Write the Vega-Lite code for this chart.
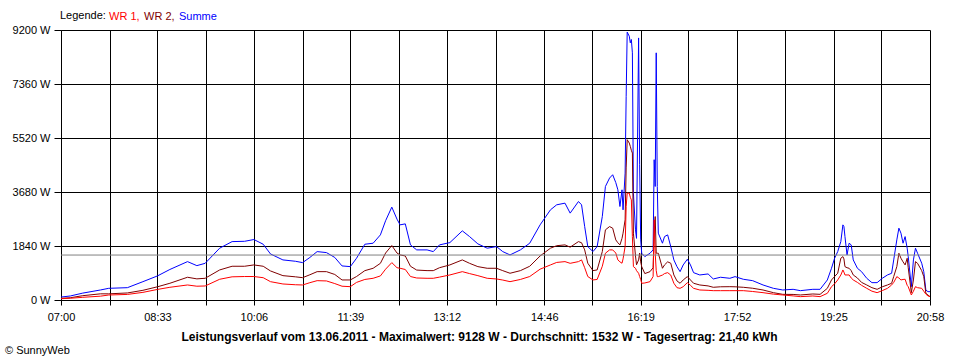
{
  "$schema": "https://vega.github.io/schema/vega-lite/v6.json",
  "width": 869,
  "height": 270,
  "autosize": "none",
  "padding": {"left": 61, "top": 30, "right": 30, "bottom": 60},
  "background": "white",
  "config": {
    "font": "Liberation Sans",
    "view": {"stroke": null},
    "axis": {"labelFontSize": 11, "labelColor": "black", "domainColor": "black", "tickColor": "black", "gridColor": "black", "gridOpacity": 1, "gridWidth": 1}
  },
  "title": {"text": "© SunnyWeb", "orient": "bottom", "anchor": "start", "frame": "group", "fontSize": 11, "fontWeight": "normal", "color": "black", "dx": -56, "offset": 3},
  "layer": [
    {
      "data": {
        "format": {"parse": {"t": "date:'%H:%M'"}},
        "values": [
          {"t":"07:00","Summe":100,"WR 2":58,"WR 1":44},
          {"t":"07:09","Summe":137,"WR 2":77,"WR 1":60},
          {"t":"07:21","Summe":235,"WR 2":147,"WR 1":92},
          {"t":"07:38","Summe":341,"WR 2":210,"WR 1":130},
          {"t":"07:46","Summe":398,"WR 2":210,"WR 1":170},
          {"t":"08:04","Summe":420,"WR 2":240,"WR 1":190},
          {"t":"08:19","Summe":625,"WR 2":330,"WR 1":260},
          {"t":"08:33","Summe":820,"WR 2":450,"WR 1":360},
          {"t":"08:45","Summe":1040,"WR 2":570,"WR 1":433},
          {"t":"09:02","Summe":1308,"WR 2":775,"WR 1":512},
          {"t":"09:11","Summe":1171,"WR 2":720,"WR 1":470},
          {"t":"09:19","Summe":1250,"WR 2":740,"WR 1":478},
          {"t":"09:33","Summe":1765,"WR 2":1024,"WR 1":706},
          {"t":"09:45","Summe":1990,"WR 2":1150,"WR 1":790},
          {"t":"09:57","Summe":2000,"WR 2":1150,"WR 1":800},
          {"t":"10:06","Summe":2060,"WR 2":1195,"WR 1":800},
          {"t":"10:15","Summe":1900,"WR 2":1150,"WR 1":760},
          {"t":"10:22","Summe":1570,"WR 2":990,"WR 1":625},
          {"t":"10:34","Summe":1366,"WR 2":830,"WR 1":546},
          {"t":"10:46","Summe":1320,"WR 2":790,"WR 1":520},
          {"t":"10:53","Summe":1274,"WR 2":761,"WR 1":512},
          {"t":"11:00","Summe":1450,"WR 2":860,"WR 1":590},
          {"t":"11:07","Summe":1649,"WR 2":966,"WR 1":659},
          {"t":"11:16","Summe":1615,"WR 2":966,"WR 1":649},
          {"t":"11:24","Summe":1450,"WR 2":870,"WR 1":560},
          {"t":"11:31","Summe":1161,"WR 2":683,"WR 1":470},
          {"t":"11:39","Summe":1137,"WR 2":683,"WR 1":454},
          {"t":"11:45","Summe":1423,"WR 2":800,"WR 1":600},
          {"t":"11:53","Summe":1900,"WR 2":1000,"WR 1":700},
          {"t":"12:01","Summe":1935,"WR 2":1081,"WR 1":740},
          {"t":"12:08","Summe":2219,"WR 2":1250,"WR 1":820},
          {"t":"12:13","Summe":2700,"WR 2":1600,"WR 1":1050},
          {"t":"12:19","Summe":3165,"WR 2":1855,"WR 1":1274},
          {"t":"12:24","Summe":2755,"WR 2":1600,"WR 1":1100},
          {"t":"12:27","Summe":2560,"WR 2":1536,"WR 1":1081},
          {"t":"12:32","Summe":2594,"WR 2":1500,"WR 1":1040},
          {"t":"12:37","Summe":1878,"WR 2":1150,"WR 1":800},
          {"t":"12:43","Summe":1707,"WR 2":1020,"WR 1":750},
          {"t":"12:53","Summe":1707,"WR 2":1001,"WR 1":740},
          {"t":"12:59","Summe":1649,"WR 2":1000,"WR 1":740},
          {"t":"13:05","Summe":1878,"WR 2":1100,"WR 1":780},
          {"t":"13:15","Summe":1956,"WR 2":1195,"WR 1":853},
          {"t":"13:27","Summe":2356,"WR 2":1366,"WR 1":966},
          {"t":"13:34","Summe":2161,"WR 2":1250,"WR 1":900},
          {"t":"13:42","Summe":1912,"WR 2":1137,"WR 1":830},
          {"t":"13:51","Summe":1765,"WR 2":1081,"WR 1":740},
          {"t":"14:00","Summe":1820,"WR 2":1081,"WR 1":717},
          {"t":"14:06","Summe":1649,"WR 2":1000,"WR 1":680},
          {"t":"14:13","Summe":1536,"WR 2":911,"WR 1":625},
          {"t":"14:23","Summe":1707,"WR 2":1000,"WR 1":700},
          {"t":"14:32","Summe":1935,"WR 2":1150,"WR 1":800},
          {"t":"14:42","Summe":2560,"WR 2":1500,"WR 1":1050},
          {"t":"14:52","Summe":3073,"WR 2":1765,"WR 1":1195},
          {"t":"14:58","Summe":3243,"WR 2":1850,"WR 1":1280},
          {"t":"15:06","Summe":3300,"WR 2":1878,"WR 1":1308},
          {"t":"15:11","Summe":2960,"WR 2":1800,"WR 1":1250},
          {"t":"15:19","Summe":3356,"WR 2":1990,"WR 1":1308},
          {"t":"15:22","Summe":3243,"WR 2":1950,"WR 1":1366},
          {"t":"15:25","Summe":2502,"WR 2":1707,"WR 1":1100},
          {"t":"15:28","Summe":1820,"WR 2":1253,"WR 1":800},
          {"t":"15:33","Summe":1649,"WR 2":1001,"WR 1":683},
          {"t":"15:37","Summe":1820,"WR 2":1024,"WR 1":700},
          {"t":"15:42","Summe":2844,"WR 2":1650,"WR 1":1150},
          {"t":"15:45","Summe":3868,"WR 2":2390,"WR 1":1593},
          {"t":"15:49","Summe":4155,"WR 2":2502,"WR 1":1707},
          {"t":"15:52","Summe":4268,"WR 2":2448,"WR 1":1707},
          {"t":"15:55","Summe":4000,"WR 2":2048,"WR 1":1600},
          {"t":"15:57","Summe":3755,"WR 2":1950,"WR 1":1366},
          {"t":"15:59","Summe":3185,"WR 2":1878,"WR 1":1300},
          {"t":"16:01","Summe":3755,"WR 2":2100,"WR 1":1253},
          {"t":"16:02","Summe":3073,"WR 2":2277,"WR 1":1400},
          {"t":"16:04","Summe":4324,"WR 2":2731,"WR 1":1820},
          {"t":"16:05","Summe":6941,"WR 2":4500,"WR 1":3185},
          {"t":"16:06","Summe":9128,"WR 2":5462,"WR 1":3641},
          {"t":"16:08","Summe":8990,"WR 2":5348,"WR 1":3641},
          {"t":"16:09","Summe":8763,"WR 2":5235,"WR 1":3500},
          {"t":"16:10","Summe":8876,"WR 2":5100,"WR 1":3414},
          {"t":"16:11","Summe":8422,"WR 2":5007,"WR 1":2161},
          {"t":"16:12","Summe":3641,"WR 2":2277,"WR 1":1137},
          {"t":"16:14","Summe":2390,"WR 2":1500,"WR 1":1081},
          {"t":"16:15","Summe":2100,"WR 2":1200,"WR 1":1000},
          {"t":"16:17","Summe":8930,"WR 2":1366,"WR 1":911},
          {"t":"16:18","Summe":4609,"WR 2":1600,"WR 1":800},
          {"t":"16:19","Summe":2048,"WR 2":1300,"WR 1":700},
          {"t":"16:20","Summe":1593,"WR 2":1137,"WR 1":570},
          {"t":"16:23","Summe":1479,"WR 2":900,"WR 1":580},
          {"t":"16:28","Summe":1593,"WR 2":966,"WR 1":625},
          {"t":"16:31","Summe":1707,"WR 2":1100,"WR 1":800},
          {"t":"16:32","Summe":4780,"WR 2":2277,"WR 1":2731},
          {"t":"16:33","Summe":3868,"WR 2":2844,"WR 1":1593},
          {"t":"16:34","Summe":8422,"WR 2":1593,"WR 1":1000},
          {"t":"16:35","Summe":3868,"WR 2":1593,"WR 1":796},
          {"t":"16:36","Summe":2277,"WR 2":1593,"WR 1":796},
          {"t":"16:40","Summe":1935,"WR 2":1081,"WR 1":850},
          {"t":"16:42","Summe":2161,"WR 2":1195,"WR 1":900},
          {"t":"16:45","Summe":2219,"WR 2":1300,"WR 1":932},
          {"t":"16:48","Summe":1820,"WR 2":1253,"WR 1":850},
          {"t":"16:51","Summe":1366,"WR 2":853,"WR 1":570},
          {"t":"16:54","Summe":1137,"WR 2":650,"WR 1":420},
          {"t":"16:57","Summe":966,"WR 2":570,"WR 1":398},
          {"t":"17:00","Summe":1195,"WR 2":683,"WR 1":454},
          {"t":"17:04","Summe":1389,"WR 2":796,"WR 1":591},
          {"t":"17:07","Summe":1195,"WR 2":683,"WR 1":500},
          {"t":"17:10","Summe":932,"WR 2":570,"WR 1":398},
          {"t":"17:16","Summe":853,"WR 2":512,"WR 1":341},
          {"t":"17:24","Summe":888,"WR 2":480,"WR 1":330},
          {"t":"17:29","Summe":717,"WR 2":433,"WR 1":318},
          {"t":"17:36","Summe":775,"WR 2":450,"WR 1":318},
          {"t":"17:45","Summe":740,"WR 2":454,"WR 1":318},
          {"t":"17:50","Summe":796,"WR 2":450,"WR 1":318},
          {"t":"17:58","Summe":706,"WR 2":433,"WR 1":318},
          {"t":"18:07","Summe":659,"WR 2":400,"WR 1":290},
          {"t":"18:17","Summe":512,"WR 2":341,"WR 1":250},
          {"t":"18:27","Summe":398,"WR 2":250,"WR 1":200},
          {"t":"18:36","Summe":341,"WR 2":193,"WR 1":171},
          {"t":"18:46","Summe":364,"WR 2":190,"WR 1":140},
          {"t":"18:53","Summe":318,"WR 2":171,"WR 1":114},
          {"t":"19:05","Summe":364,"WR 2":205,"WR 1":137},
          {"t":"19:12","Summe":364,"WR 2":193,"WR 1":114},
          {"t":"19:19","Summe":683,"WR 2":398,"WR 1":228},
          {"t":"19:23","Summe":1081,"WR 2":683,"WR 1":454},
          {"t":"19:26","Summe":1423,"WR 2":800,"WR 1":550},
          {"t":"19:29","Summe":1649,"WR 2":911,"WR 1":683},
          {"t":"19:32","Summe":1990,"WR 2":1423,"WR 1":850},
          {"t":"19:34","Summe":2560,"WR 2":1479,"WR 1":1024},
          {"t":"19:35","Summe":2502,"WR 2":1400,"WR 1":950},
          {"t":"19:36","Summe":2161,"WR 2":1137,"WR 1":853},
          {"t":"19:38","Summe":1536,"WR 2":1100,"WR 1":853},
          {"t":"19:40","Summe":1935,"WR 2":1081,"WR 1":853},
          {"t":"19:42","Summe":1878,"WR 2":1000,"WR 1":750},
          {"t":"19:44","Summe":1366,"WR 2":853,"WR 1":683},
          {"t":"19:48","Summe":1081,"WR 2":750,"WR 1":600},
          {"t":"19:52","Summe":966,"WR 2":600,"WR 1":500},
          {"t":"19:57","Summe":740,"WR 2":512,"WR 1":398},
          {"t":"20:02","Summe":591,"WR 2":420,"WR 1":300},
          {"t":"20:07","Summe":591,"WR 2":364,"WR 1":250},
          {"t":"20:12","Summe":740,"WR 2":450,"WR 1":320},
          {"t":"20:17","Summe":853,"WR 2":512,"WR 1":398},
          {"t":"20:21","Summe":911,"WR 2":570,"WR 1":512},
          {"t":"20:23","Summe":1366,"WR 2":800,"WR 1":600},
          {"t":"20:26","Summe":2048,"WR 2":1137,"WR 1":796},
          {"t":"20:28","Summe":2448,"WR 2":1593,"WR 1":750},
          {"t":"20:30","Summe":2277,"WR 2":1423,"WR 1":683},
          {"t":"20:32","Summe":1935,"WR 2":1300,"WR 1":700},
          {"t":"20:34","Summe":2161,"WR 2":1195,"WR 1":706},
          {"t":"20:36","Summe":1765,"WR 2":1423,"WR 1":500},
          {"t":"20:37","Summe":1479,"WR 2":1100,"WR 1":454},
          {"t":"20:40","Summe":454,"WR 2":250,"WR 1":171},
          {"t":"20:42","Summe":1366,"WR 2":683,"WR 1":300},
          {"t":"20:44","Summe":1765,"WR 2":1308,"WR 1":454},
          {"t":"20:46","Summe":1593,"WR 2":1250,"WR 1":420},
          {"t":"20:50","Summe":1253,"WR 2":1000,"WR 1":398},
          {"t":"20:52","Summe":966,"WR 2":796,"WR 1":300},
          {"t":"20:54","Summe":341,"WR 2":230,"WR 1":200},
          {"t":"20:56","Summe":284,"WR 2":171,"WR 1":140},
          {"t":"20:58","Summe":284,"WR 2":114,"WR 1":114}
        ]
      },
      "transform": [{"fold": ["Summe", "WR 2", "WR 1"], "as": ["Serie", "W"]}],
      "mark": {"type": "line", "strokeWidth": 1},
      "encoding": {
        "x": {
          "field": "t", "type": "temporal",
          "scale": {"domain": [{"year": 1900, "month": 1, "date": 1, "hours": 7, "minutes": 0}, {"year": 1900, "month": 1, "date": 1, "hours": 20, "minutes": 58}]},
          "axis": {
            "values": [
              {"year": 1900, "month": 1, "date": 1, "hours": 7, "minutes": 0},
              {"year": 1900, "month": 1, "date": 1, "hours": 7, "minutes": 47},
              {"year": 1900, "month": 1, "date": 1, "hours": 8, "minutes": 33},
              {"year": 1900, "month": 1, "date": 1, "hours": 9, "minutes": 20},
              {"year": 1900, "month": 1, "date": 1, "hours": 10, "minutes": 6},
              {"year": 1900, "month": 1, "date": 1, "hours": 10, "minutes": 53},
              {"year": 1900, "month": 1, "date": 1, "hours": 11, "minutes": 39},
              {"year": 1900, "month": 1, "date": 1, "hours": 12, "minutes": 26},
              {"year": 1900, "month": 1, "date": 1, "hours": 13, "minutes": 12},
              {"year": 1900, "month": 1, "date": 1, "hours": 13, "minutes": 59},
              {"year": 1900, "month": 1, "date": 1, "hours": 14, "minutes": 46},
              {"year": 1900, "month": 1, "date": 1, "hours": 15, "minutes": 32},
              {"year": 1900, "month": 1, "date": 1, "hours": 16, "minutes": 19},
              {"year": 1900, "month": 1, "date": 1, "hours": 17, "minutes": 5},
              {"year": 1900, "month": 1, "date": 1, "hours": 17, "minutes": 52},
              {"year": 1900, "month": 1, "date": 1, "hours": 18, "minutes": 38},
              {"year": 1900, "month": 1, "date": 1, "hours": 19, "minutes": 25},
              {"year": 1900, "month": 1, "date": 1, "hours": 20, "minutes": 11},
              {"year": 1900, "month": 1, "date": 1, "hours": 20, "minutes": 58}
            ],
            "format": "%H:%M",
            "labelExpr": "indexof(['07:00','08:33','10:06','11:39','13:12','14:46','16:19','17:52','19:25','20:58'], datum.label) >= 0 ? datum.label : ''",
            "labelFlush": false,
            "labelOverlap": false,
            "labelPadding": 6,
            "tickSize": 5,
            "grid": true,
            "title": "Leistungsverlauf vom 13.06.2011 - Maximalwert: 9128 W - Durchschnitt: 1532 W - Tagesertrag: 21,40 kWh",
            "titleFontSize": 12,
            "titleFontWeight": "bold",
            "titleColor": "black",
            "titleX": 418,
            "titlePadding": 9
          }
        },
        "y": {
          "field": "W", "type": "quantitative",
          "scale": {"domain": [0, 9200], "nice": false},
          "axis": {
            "values": [0, 1840, 3680, 5520, 7360, 9200],
            "labelExpr": "datum.value + ' W'",
            "tickSize": 7,
            "labelPadding": 4,
            "grid": true,
            "title": null
          }
        },
        "color": {
          "field": "Serie", "type": "nominal",
          "scale": {"domain": ["WR 1", "WR 2", "Summe"], "range": ["#ff0000", "#800000", "#0000ff"]},
          "legend": {
            "orient": "none", "legendX": -1, "legendY": -19,
            "direction": "horizontal",
            "title": "Legende:", "titleOrient": "left", "titleFontWeight": "normal", "titleFontSize": 11, "titleColor": "black", "titlePadding": 4,
            "labelFontSize": 11, "labelOffset": -12, "columnPadding": 4,
            "symbolSize": 0, "symbolOpacity": 0, "symbolStrokeWidth": 0,
            "labelExpr": "datum.value == 'Summe' ? datum.label : datum.label + ','",
            "labelColor": {"expr": "datum.value == 'Summe' ? '#0000ff' : datum.value == 'WR 1' ? '#ff0000' : '#800000'"}
          }
        }
      }
    },
    {
      "data": {"values": [{"avg": 1532}]},
      "mark": {"type": "rule", "color": "#808080", "strokeWidth": 1},
      "encoding": {"y": {"field": "avg", "type": "quantitative"}}
    }
  ]
}
